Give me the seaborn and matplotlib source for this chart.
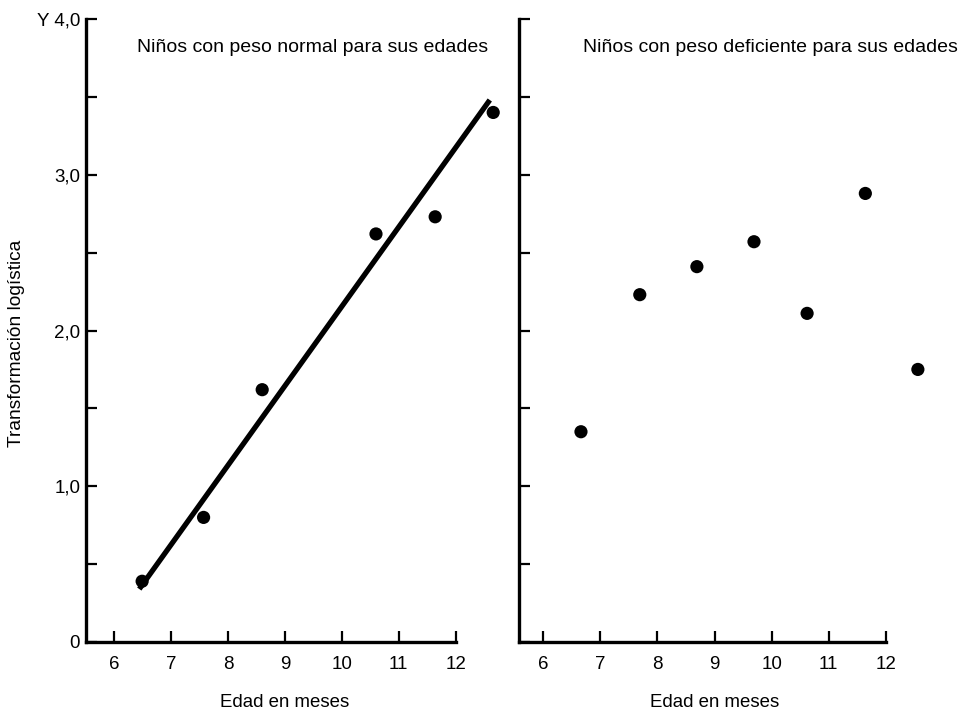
import numpy as np
import pandas as pd
import matplotlib
matplotlib.use('Agg')
import matplotlib.pyplot as plt
import seaborn as sns

# valores
edad_normal = [6.49, 7.57, 8.60, 10.60, 11.64, 12.66]
logit_normal = [0.39, 0.80, 1.62, 2.62, 2.73, 3.40]
recta_x = [6.44, 12.60]
recta_y = [0.34, 3.48]

edad_deficiente = [6.66, 7.69, 8.69, 9.69, 10.62, 11.64, 12.56]
logit_deficiente = [1.35, 2.23, 2.41, 2.57, 2.11, 2.88, 1.75]

x_ticks = [6, 7, 8, 9, 10, 11, 12]
y_major = [0, 1, 2, 3, 4]
y_labels = ['0', '1,0', '2,0', '3,0', 'Y 4,0']
y_minor = [0.5, 1.5, 2.5, 3.5]

titulos = ['Niños con peso normal para sus edades',
           'Niños con peso deficiente para sus edades']

sns.set_style('ticks')
plt.rcParams['font.family'] = ['Liberation Sans', 'DejaVu Sans']
for k in ('text.color', 'axes.labelcolor', 'xtick.color', 'ytick.color', 'axes.edgecolor'):
    plt.rcParams[k] = 'black'

fig = plt.figure(figsize=(9.6, 7.11), dpi=100)
W, H = 960, 711
ax1 = fig.add_axes([85.8 / W, (H - 642) / H, 426.75 / W, 623 / H])
ax2 = fig.add_axes([519.3 / W, (H - 642) / H, 423.7 / W, 623 / H])

df_n = pd.DataFrame({'edad': edad_normal, 'logit': logit_normal})
df_d = pd.DataFrame({'edad': edad_deficiente, 'logit': logit_deficiente})
df_r = pd.DataFrame({'edad': recta_x, 'logit': recta_y})

sns.lineplot(data=df_r, x='edad', y='logit', ax=ax1, color='black',
             linewidth=3.8, solid_capstyle='butt')
sns.scatterplot(data=df_n, x='edad', y='logit', ax=ax1, color='black',
                s=90, edgecolor='none', clip_on=False, zorder=3)
sns.scatterplot(data=df_d, x='edad', y='logit', ax=ax2, color='black',
                s=90, edgecolor='none', clip_on=False, zorder=3)

for ax, x0 in ((ax1, 5.5), (ax2, 5.58)):
    ax.set_xlim(x0, 13.0)
    ax.set_ylim(0, 4.0)
    sns.despine(ax=ax)
    ax.spines['left'].set_linewidth(2.4)
    ax.spines['bottom'].set_linewidth(2.4)
    ax.spines['left'].set_color('black')
    ax.spines['bottom'].set_color('black')
    ax.spines['bottom'].set_bounds(x0, 12)
    ax.set_xticks(x_ticks)
    ax.set_xticklabels([str(t) for t in x_ticks], fontsize=13.5)
    ax.set_yticks(y_major)
    ax.set_yticks(y_minor, minor=True)
    ax.tick_params(axis='both', which='both', direction='in', width=1.6,
                   length=8, color='black')
    ax.tick_params(axis='x', pad=10)
    ax.set_ylabel('')
    ax.set_xlabel('Edad en meses', fontsize=13.4)
    ax.patch.set_alpha(0)

ax1.set_yticklabels(y_labels, fontsize=13.5)
ax1.tick_params(axis='y', pad=4)
ax2.set_yticklabels([])
ax1.set_ylabel('Transformación logística', fontsize=13.8)
ax1.yaxis.set_label_coords(-0.142, 0.48)
ax1.xaxis.set_label_coords(0.467, -0.083)
ax2.xaxis.set_label_coords(0.462, -0.083)

ax1.text(6.4, 3.82, titulos[0], fontsize=14, va='center', ha='left')
ax2.text(6.70, 3.82, titulos[1], fontsize=14, va='center', ha='left')

fig.savefig('out.png', dpi=100)
